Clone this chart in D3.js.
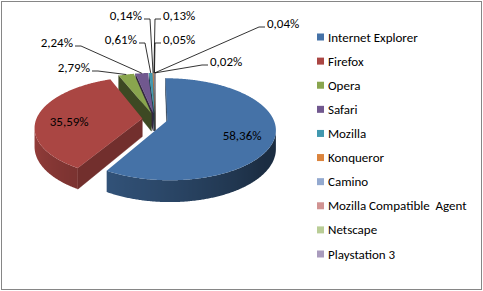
<!DOCTYPE html>
<html>
<head>
<meta charset="utf-8">
<script src="https://cdn.jsdelivr.net/npm/d3@7"></script>
<style>
  body { margin: 0; background: #fff; }
  svg text { font-family: Carlito, Calibri, Roboto, "Noto Sans", sans-serif; font-size: 13px; fill: #000; white-space: pre; }
</style>
</head>
<body>
<div id="chart"></div>
<script>
const browsers = ["Internet Explorer", "Firefox", "Opera", "Safari", "Mozilla", "Konqueror",
                  "Camino", "Mozilla Compatible  Agent", "Netscape", "Playstation 3"];
const shares = [58.36, 35.59, 2.79, 2.24, 0.61, 0.14, 0.13, 0.05, 0.04, 0.02];
const colors = ["#4572A7", "#AA4643", "#89A54E", "#71588F", "#4198AF",
                "#DB843D", "#93A9CF", "#D19392", "#B9CD96", "#A99BBD"];

// where the outside labels sit: [x, baseline, side]  (side -1 = text left of line)
const labelAt = [null, null,
  [90, 72, -1], [73, 47, -1], [137, 44, -1], [142, 20, -1],
  [163, 20, 1], [163, 44, 1], [267, 28, 1], [210, 66, 1]];

const W = 483, H = 291;

// 3d pie look: ellipse + a bit of perspective, like the excel one
const cx = 155, cy = 119, rx = 106, ry = 49;
const persp = 0.17, depth = 18, explode = 0.12;

const proj = (u, v, d) => {
  const w = 1 / (1 - persp * v);
  return [cx + rx * u * w, cy + (ry * v + depth * d) * w];
};

const fmt = (v) => d3.format(".2f")(v).replace(".", ",") + "%";

const svg = d3.select("#chart").append("svg")
  .attr("width", W)
  .attr("height", H);

const defs = svg.append("defs");

svg.append("rect")
  .attr("x", 1.5).attr("y", 1.5)
  .attr("width", 480).attr("height", 288)
  .attr("fill", "#fff")
  .attr("stroke", "#868686");

const arcs = d3.pie().sort(null).value(d => d)(shares).map((a, i) => {
  const m = (a.startAngle + a.endAngle) / 2;
  return { ...a, i, m, ou: explode * Math.sin(m), ov: -explode * Math.cos(m) };
});

const pt = (s, th, r, d) => proj(s.ou + r * Math.sin(th), s.ov - r * Math.cos(th), d);

const area = (p) => {
  let a = 0;
  for (let k = 0; k < p.length; k++) {
    const q = p[(k + 1) % p.length];
    a += p[k][0] * q[1] - q[0] * p[k][1];
  }
  return a / 2;
};

const shade = (c, f) => { const r = d3.rgb(c); return d3.rgb(r.r * f, r.g * f, r.b * f).toString(); };
const deg = (a) => ((a * 180 / Math.PI) % 360 + 360) % 360;

const sideLight = d3.scaleLinear().domain([90, 130, 190, 210, 270]).range([0.38, 0.4, 0.65, 0.72, 0.92]).clamp(true);
const wallLight = d3.scaleLinear().domain([120, 250]).range([0.67, 0.44]).clamp(true);

const line = d3.line();
const gPie = svg.append("g");

// back slices first
const order = arcs.slice().sort((a, b) => (-Math.cos(a.m)) - (-Math.cos(b.m)));

order.forEach(s => {
  const g = gPie.append("g");
  const a0 = s.startAngle, a1 = s.endAngle;
  const n = Math.max(1, Math.ceil((a1 - a0) / (Math.PI / 360)));
  const col = colors[s.i];

  // radial walls
  const w0 = [pt(s, a0, 0, 0), pt(s, a0, 1, 0), pt(s, a0, 1, 1), pt(s, a0, 0, 1)];
  const w1 = [pt(s, a1, 0, 0), pt(s, a1, 0, 1), pt(s, a1, 1, 1), pt(s, a1, 1, 0)];
  [[w0, deg(a0) - 90], [w1, deg(a1) + 90]].forEach(([p, nrm]) => {
    if (area(p) >= 0) return;
    const f = shade(col, wallLight(((nrm % 360) + 360) % 360));
    g.append("path").attr("d", line(p) + "Z").attr("fill", f).attr("stroke", f).attr("stroke-width", 0.4);
  });

  // outer wall: front facing part only, lit with a horizontal gradient
  const vis = [];
  for (let k = 0; k <= n; k++) {
    const t = a0 + (a1 - a0) * k / n;
    const dt = 0.001;
    const p = [pt(s, t - dt, 1, 0), pt(s, t + dt, 1, 0), pt(s, t + dt, 1, 1), pt(s, t - dt, 1, 1)];
    if (area(p) < 0) vis.push(t);
  }
  if (vis.length > 1) {
    const topPts = vis.map(t => pt(s, t, 1, 0));
    const botPts = vis.map(t => pt(s, t, 1, 1)).reverse();
    const xs = topPts.map(p => p[0]);
    const xMin = d3.min(xs), xMax = d3.max(xs);
    const gid = "side" + s.i;
    const grad = defs.append("linearGradient").attr("id", gid)
      .attr("gradientUnits", "userSpaceOnUse")
      .attr("x1", xMin).attr("x2", xMax).attr("y1", 0).attr("y2", 0);
    const stops = vis.map((t, k) => ({ o: xMax > xMin ? (xs[k] - xMin) / (xMax - xMin) : 0, c: shade(col, sideLight(deg(t))) }))
      .sort((a, b) => a.o - b.o);
    grad.selectAll("stop").data(stops).join("stop")
      .attr("offset", d => d.o).attr("stop-color", d => d.c);
    g.append("path").attr("d", line(topPts.concat(botPts)) + "Z")
      .attr("fill", `url(#${gid})`);
  }

  // top face
  const top = [pt(s, a0, 0, 0)];
  for (let k = 0; k <= n; k++) top.push(pt(s, a0 + (a1 - a0) * k / n, 1, 0));
  g.append("path").attr("d", line(top) + "Z").attr("fill", col);
});

// data labels
const gLab = svg.append("g");
arcs.forEach(s => {
  const at = labelAt[s.i];
  if (!at) {
    const [x, y] = pt(s, s.m, 0.7, 0.35);
    gLab.append("text").attr("x", x).attr("y", y + 4).attr("text-anchor", "middle").text(fmt(shares[s.i]));
    return;
  }
  const [x, y, side] = at;
  gLab.append("text")
    .attr("x", x).attr("y", y)
    .attr("text-anchor", side < 0 ? "end" : "start")
    .text(fmt(shares[s.i]));
  const x0 = x - side * 2, x1 = x0 - side * 6;
  gLab.append("path")
    .attr("d", line([[x0, y - 1], [x1, y - 1], pt(s, s.m, 1, 0)]))
    .attr("fill", "none")
    .attr("stroke", "#000")
    .attr("stroke-width", 0.8);
});

// legend
const legY = d3.scalePoint().domain(browsers).range([37, 254]);
const leg = svg.append("g").selectAll("g").data(browsers).join("g")
  .attr("transform", d => `translate(317,${legY(d)})`);
leg.append("rect").attr("x", 0).attr("y", -3.5).attr("width", 7).attr("height", 7)
  .attr("fill", (d, i) => colors[i]);
leg.append("text").attr("x", 11).attr("y", 4.5).text(d => d);
</script>
</body>
</html>
